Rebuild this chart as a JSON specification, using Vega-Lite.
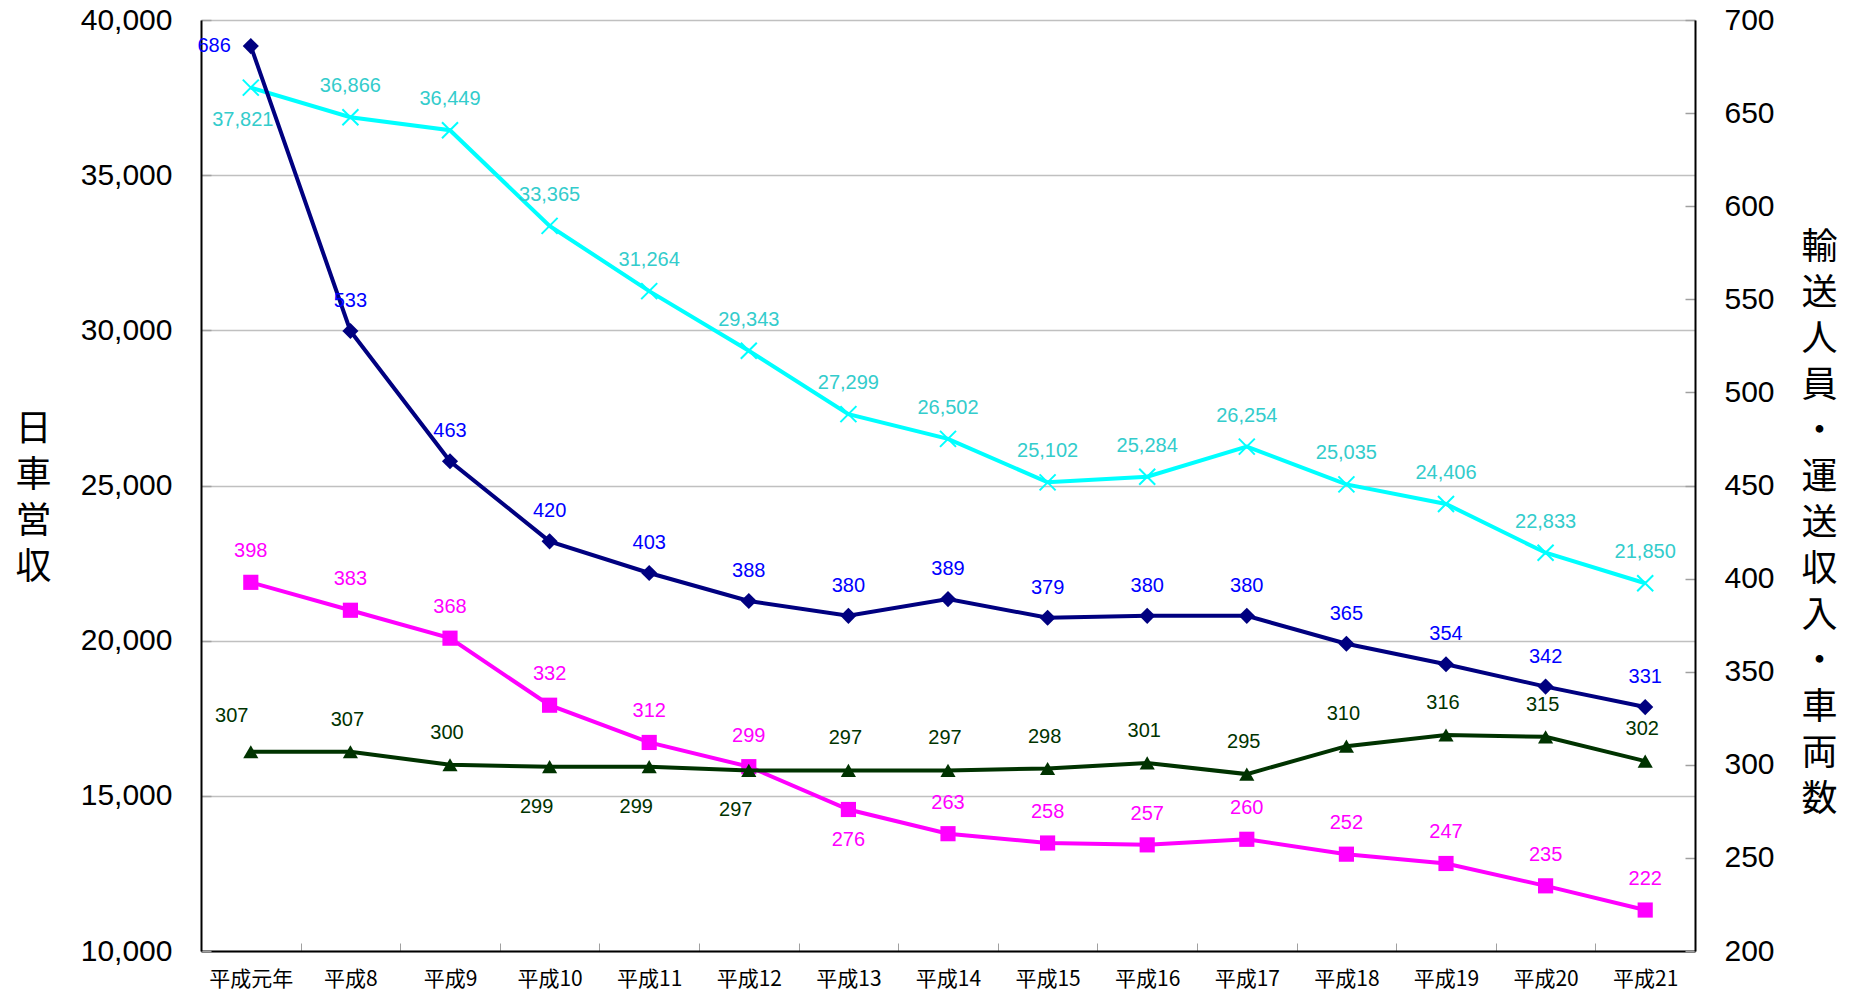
{
  "$schema": "https://vega.github.io/schema/vega-lite/v6.json",
  "width": 1494,
  "height": 931,
  "autosize": {"type": "none"},
  "padding": {"left": 201, "top": 20, "right": 161, "bottom": 43},
  "background": "white",
  "config": {
    "view": {"stroke": null},
    "font": "Liberation Sans, Noto Sans CJK JP",
    "text": {"font": "Liberation Sans, Noto Sans CJK JP", "fontSize": 20, "baseline": "middle", "align": "center"}
  },
  "data": {
    "values": [
      {"year": "平成元年", "nissha": 37821, "jinin": 686, "shunyu": 398, "sharyo": 307},
      {"year": "平成8", "nissha": 36866, "jinin": 533, "shunyu": 383, "sharyo": 307},
      {"year": "平成9", "nissha": 36449, "jinin": 463, "shunyu": 368, "sharyo": 300},
      {"year": "平成10", "nissha": 33365, "jinin": 420, "shunyu": 332, "sharyo": 299},
      {"year": "平成11", "nissha": 31264, "jinin": 403, "shunyu": 312, "sharyo": 299},
      {"year": "平成12", "nissha": 29343, "jinin": 388, "shunyu": 299, "sharyo": 297},
      {"year": "平成13", "nissha": 27299, "jinin": 380, "shunyu": 276, "sharyo": 297},
      {"year": "平成14", "nissha": 26502, "jinin": 389, "shunyu": 263, "sharyo": 297},
      {"year": "平成15", "nissha": 25102, "jinin": 379, "shunyu": 258, "sharyo": 298},
      {"year": "平成16", "nissha": 25284, "jinin": 380, "shunyu": 257, "sharyo": 301},
      {"year": "平成17", "nissha": 26254, "jinin": 380, "shunyu": 260, "sharyo": 295},
      {"year": "平成18", "nissha": 25035, "jinin": 365, "shunyu": 252, "sharyo": 310},
      {"year": "平成19", "nissha": 24406, "jinin": 354, "shunyu": 247, "sharyo": 316},
      {"year": "平成20", "nissha": 22833, "jinin": 342, "shunyu": 235, "sharyo": 315},
      {"year": "平成21", "nissha": 21850, "jinin": 331, "shunyu": 222, "sharyo": 302}
    ]
  },
  "encoding": {
    "x": {
      "field": "year", "type": "ordinal", "sort": null,
      "scale": {"type": "band", "paddingInner": 0, "paddingOuter": 0},
      "axis": {
        "title": null, "labelAngle": 0, "labelFontSize": 21, "labelColor": "black",
        "labelFont": "Noto Sans CJK JP", "labelPadding": 36, "labelBaseline": "middle",
        "tickBand": "extent", "tickSize": -8, "tickColor": "#A0A0A0", "tickWidth": 1,
        "domainColor": "black", "domainWidth": 2, "grid": false
      }
    }
  },
  "layer": [
    {
      "encoding": {
        "y": {
          "field": "nissha", "type": "quantitative",
          "scale": {"domain": [10000, 40000], "nice": false, "zero": false},
          "axis": {
            "orient": "left", "values": [10000, 15000, 20000, 25000, 30000, 35000, 40000],
            "format": ",d", "labelFontSize": 30, "labelColor": "black", "labelFont": "Liberation Sans",
            "labelPadding": 39, "tickSize": -10, "tickColor": "#A0A0A0", "tickWidth": 1.5,
            "domainColor": "black", "domainWidth": 2,
            "grid": true, "gridColor": "#C0C0C0", "gridWidth": 1.5,
            "title": ["日", "車", "営", "収"], "titleAngle": 0, "titleFontSize": 36,
            "titleFont": "Noto Sans CJK JP", "titleFontWeight": "normal", "titleLineHeight": 46,
            "titleAlign": "center", "titleBaseline": "middle", "titleX": -168, "titleY": 409, "titleColor": "black"
          }
        }
      },
      "layer": [
        {"mark": {"type": "line", "color": "#00FFFF", "strokeWidth": 4}},
        {"mark": {"type": "point", "shape": "M-1,-1L1,1M1,-1L-1,1", "filled": false, "stroke": "#00FFFF", "strokeWidth": 2, "size": 256, "opacity": 1}},
        {
          "transform": [{"filter": {"not": {"field": "year", "equal": "平成元年"}}}],
          "mark": {"type": "text", "color": "#33CCCC", "dy": -31},
          "encoding": {"text": {"field": "nissha", "type": "quantitative", "format": ",d"}}
        },
        {
          "transform": [{"filter": {"field": "year", "equal": "平成元年"}}],
          "mark": {"type": "text", "color": "#33CCCC", "dy": 32, "dx": -8},
          "encoding": {"text": {"field": "nissha", "type": "quantitative", "format": ",d"}}
        }
      ]
    },
    {
      "transform": [{"fold": ["jinin", "shunyu", "sharyo"], "as": ["series", "v"]}],
      "encoding": {
        "y": {
          "field": "v", "type": "quantitative",
          "scale": {"domain": [200, 700], "nice": false, "zero": false},
          "axis": {
            "orient": "right", "values": [200, 250, 300, 350, 400, 450, 500, 550, 600, 650, 700],
            "labelFontSize": 30, "labelColor": "black", "labelFont": "Liberation Sans",
            "labelPadding": 39, "tickSize": -10, "tickColor": "#A0A0A0", "tickWidth": 1.5,
            "domainColor": "black", "domainWidth": 2, "grid": false,
            "title": ["輸", "送", "人", "員", "・", "運", "送", "収", "入", "・", "車", "両", "数"],
            "titleAngle": 0, "titleFontSize": 36, "titleFont": "Noto Sans CJK JP", "titleFontWeight": "normal",
            "titleLineHeight": 46, "titleAlign": "center", "titleBaseline": "middle",
            "titleX": 124, "titleY": 227, "titleColor": "black"
          }
        }
      },
      "layer": [
        {
          "transform": [{"filter": {"field": "series", "equal": "jinin"}}],
          "mark": {"type": "line", "color": "#000080", "strokeWidth": 4}
        },
        {
          "transform": [{"filter": {"field": "series", "equal": "jinin"}}],
          "mark": {"type": "point", "shape": "diamond", "filled": true, "color": "#000080", "size": 260, "opacity": 1}
        },
        {
          "transform": [{"filter": {"and": [{"field": "series", "equal": "jinin"}, {"not": {"field": "year", "equal": "平成元年"}}]}}],
          "mark": {"type": "text", "color": "#0000FF", "dy": -30},
          "encoding": {"text": {"field": "v", "type": "quantitative"}}
        },
        {
          "transform": [{"filter": {"and": [{"field": "series", "equal": "jinin"}, {"field": "year", "equal": "平成元年"}]}}],
          "mark": {"type": "text", "color": "#0000FF", "dx": -20, "align": "right"},
          "encoding": {"text": {"field": "v", "type": "quantitative"}}
        },
        {
          "transform": [{"filter": {"field": "series", "equal": "shunyu"}}],
          "mark": {"type": "line", "color": "#FF00FF", "strokeWidth": 4}
        },
        {
          "transform": [{"filter": {"field": "series", "equal": "shunyu"}}],
          "mark": {"type": "point", "shape": "square", "filled": true, "color": "#FF00FF", "size": 230, "opacity": 1}
        },
        {
          "transform": [{"filter": {"and": [{"field": "series", "equal": "shunyu"}, {"not": {"field": "year", "equal": "平成13"}}]}}],
          "mark": {"type": "text", "color": "#FF00FF", "dy": -31},
          "encoding": {"text": {"field": "v", "type": "quantitative"}}
        },
        {
          "transform": [{"filter": {"and": [{"field": "series", "equal": "shunyu"}, {"field": "year", "equal": "平成13"}]}}],
          "mark": {"type": "text", "color": "#FF00FF", "dy": 31},
          "encoding": {"text": {"field": "v", "type": "quantitative"}}
        },
        {
          "transform": [{"filter": {"field": "series", "equal": "sharyo"}}],
          "mark": {"type": "line", "color": "#003300", "strokeWidth": 4}
        },
        {
          "transform": [{"filter": {"field": "series", "equal": "sharyo"}}],
          "mark": {"type": "point", "shape": "triangle-up", "filled": true, "color": "#003300", "size": 230, "opacity": 1}
        },
        {
          "transform": [{"filter": {"and": [{"field": "series", "equal": "sharyo"}, {"field": "year", "oneOf": ["平成8", "平成9", "平成13", "平成14", "平成15", "平成16", "平成17", "平成18", "平成19", "平成20", "平成21"]}]}}],
          "mark": {"type": "text", "color": "#003300", "dy": -32, "dx": -3},
          "encoding": {"text": {"field": "v", "type": "quantitative"}}
        },
        {
          "transform": [{"filter": {"and": [{"field": "series", "equal": "sharyo"}, {"field": "year", "equal": "平成元年"}]}}],
          "mark": {"type": "text", "color": "#003300", "dy": -36, "dx": -19},
          "encoding": {"text": {"field": "v", "type": "quantitative"}}
        },
        {
          "transform": [{"filter": {"and": [{"field": "series", "equal": "sharyo"}, {"field": "year", "oneOf": ["平成10", "平成11", "平成12"]}]}}],
          "mark": {"type": "text", "color": "#003300", "dy": 40, "dx": -13},
          "encoding": {"text": {"field": "v", "type": "quantitative"}}
        }
      ]
    }
  ],
  "resolve": {"scale": {"y": "independent"}}
}
